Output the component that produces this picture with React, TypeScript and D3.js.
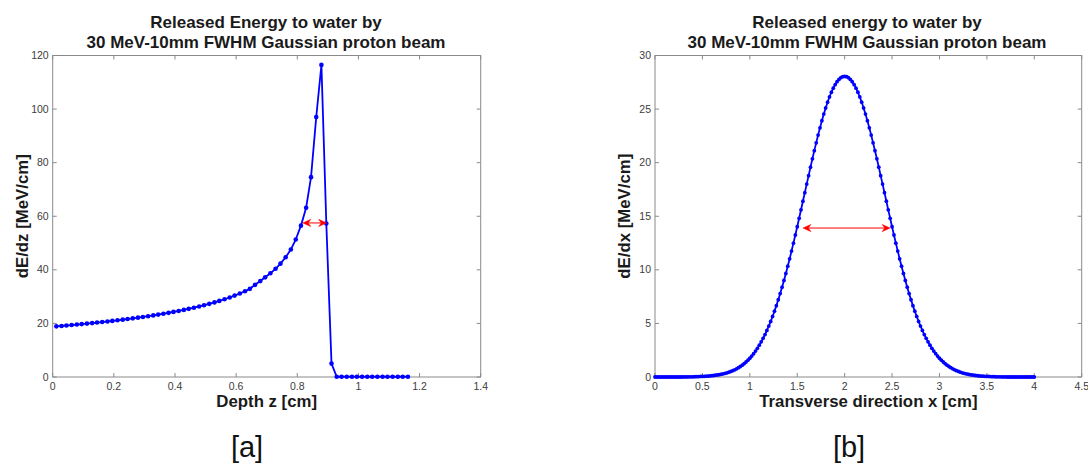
import React from 'react';
import * as d3 from 'd3';

// ---------- Panel [a] data ----------
const depthZ = [
  0.012, 0.029, 0.045, 0.062, 0.079, 0.095, 0.112, 0.129, 0.145, 0.162,
  0.179, 0.195, 0.212, 0.229, 0.245, 0.262, 0.279, 0.295, 0.312, 0.329,
  0.345, 0.362, 0.379, 0.395, 0.412, 0.429, 0.445, 0.462, 0.479, 0.495,
  0.512, 0.529, 0.545, 0.562, 0.579, 0.595, 0.612, 0.629, 0.645, 0.662,
  0.679, 0.695, 0.712, 0.729, 0.745, 0.762, 0.779, 0.795, 0.812, 0.829,
  0.845, 0.862, 0.879, 0.895, 0.912, 0.929, 0.945, 0.962, 0.979, 0.995,
  1.012, 1.029, 1.045, 1.062, 1.079, 1.095, 1.112, 1.129, 1.145, 1.162,
];
const dEdz = [
  18.90, 19.06, 19.22, 19.39, 19.57, 19.75, 19.93, 20.12, 20.32, 20.52,
  20.73, 20.94, 21.17, 21.40, 21.64, 21.89, 22.15, 22.42, 22.70, 22.99,
  23.29, 23.61, 23.94, 24.29, 24.66, 25.04, 25.44, 25.87, 26.32, 26.79,
  27.30, 27.84, 28.41, 29.02, 29.68, 30.39, 31.16, 32.00, 32.91, 34.40,
  35.80, 37.20, 38.70, 40.40, 42.30, 44.70, 47.60, 51.30, 56.50, 63.20,
  74.60, 97.00, 116.50, 57.30, 5.00, 0.10, 0.10, 0.10, 0.10, 0.10,
  0.10, 0.10, 0.10, 0.10, 0.10, 0.10, 0.10, 0.10, 0.10, 0.10,
];
const depthTicks = [0, 0.2, 0.4, 0.6, 0.8, 1, 1.2, 1.4];
const dEdzTicks = [0, 20, 40, 60, 80, 100, 120];
const fwhmDepth = [0.818, 0.896];
const fwhmDepthLevel = 57.5;

// ---------- Panel [b] data ----------
const transverseX = [
  0, 0.02, 0.04, 0.06, 0.08, 0.1, 0.12, 0.14, 0.16, 0.18,
  0.2, 0.22, 0.24, 0.26, 0.28, 0.3, 0.32, 0.34, 0.36, 0.38,
  0.4, 0.42, 0.44, 0.46, 0.48, 0.5, 0.52, 0.54, 0.56, 0.58,
  0.6, 0.62, 0.64, 0.66, 0.68, 0.7, 0.72, 0.74, 0.76, 0.78,
  0.8, 0.82, 0.84, 0.86, 0.88, 0.9, 0.92, 0.94, 0.96, 0.98,
  1, 1.02, 1.04, 1.06, 1.08, 1.1, 1.12, 1.14, 1.16, 1.18,
  1.2, 1.22, 1.24, 1.26, 1.28, 1.3, 1.32, 1.34, 1.36, 1.38,
  1.4, 1.42, 1.44, 1.46, 1.48, 1.5, 1.52, 1.54, 1.56, 1.58,
  1.6, 1.62, 1.64, 1.66, 1.68, 1.7, 1.72, 1.74, 1.76, 1.78,
  1.8, 1.82, 1.84, 1.86, 1.88, 1.9, 1.92, 1.94, 1.96, 1.98,
  2, 2.02, 2.04, 2.06, 2.08, 2.1, 2.12, 2.14, 2.16, 2.18,
  2.2, 2.22, 2.24, 2.26, 2.28, 2.3, 2.32, 2.34, 2.36, 2.38,
  2.4, 2.42, 2.44, 2.46, 2.48, 2.5, 2.52, 2.54, 2.56, 2.58,
  2.6, 2.62, 2.64, 2.66, 2.68, 2.7, 2.72, 2.74, 2.76, 2.78,
  2.8, 2.82, 2.84, 2.86, 2.88, 2.9, 2.92, 2.94, 2.96, 2.98,
  3, 3.02, 3.04, 3.06, 3.08, 3.1, 3.12, 3.14, 3.16, 3.18,
  3.2, 3.22, 3.24, 3.26, 3.28, 3.3, 3.32, 3.34, 3.36, 3.38,
  3.4, 3.42, 3.44, 3.46, 3.48, 3.5, 3.52, 3.54, 3.56, 3.58,
  3.6, 3.62, 3.64, 3.66, 3.68, 3.7, 3.72, 3.74, 3.76, 3.78,
  3.8, 3.82, 3.84, 3.86, 3.88, 3.9, 3.92, 3.94, 3.96, 3.98,
  4,
];
const dEdx = [
  0, 0, 0, 0, 0, 0, 0, 0, 0, 0,
  0, 0, 0, 0, 0, 0.01, 0.01, 0.01, 0.02, 0.02,
  0.02, 0.03, 0.03, 0.04, 0.05, 0.05, 0.06, 0.08, 0.09, 0.10,
  0.12, 0.14, 0.17, 0.19, 0.22, 0.26, 0.30, 0.34, 0.39, 0.45,
  0.52, 0.59, 0.67, 0.76, 0.87, 0.98, 1.10, 1.24, 1.40, 1.57,
  1.75, 1.95, 2.18, 2.42, 2.68, 2.97, 3.28, 3.61, 3.96, 4.35,
  4.75, 5.19, 5.65, 6.14, 6.66, 7.21, 7.78, 8.38, 9.01, 9.66,
  10.34, 11.03, 11.75, 12.49, 13.25, 14.02, 14.81, 15.60, 16.40, 17.20,
  18.00, 18.79, 19.58, 20.36, 21.12, 21.85, 22.57, 23.25, 23.91, 24.53,
  25.10, 25.64, 26.13, 26.57, 26.95, 27.28, 27.56, 27.77, 27.93, 28.02,
  28.05,
  28.02, 27.93, 27.77, 27.56, 27.28, 26.95, 26.57, 26.13, 25.64, 25.10,
  24.53, 23.91, 23.25, 22.57, 21.85, 21.12, 20.36, 19.58, 18.79, 18.00,
  17.20, 16.40, 15.60, 14.81, 14.02, 13.25, 12.49, 11.75, 11.03, 10.34,
  9.66, 9.01, 8.38, 7.78, 7.21, 6.66, 6.14, 5.65, 5.19, 4.75,
  4.35, 3.96, 3.61, 3.28, 2.97, 2.68, 2.42, 2.18, 1.95, 1.75,
  1.57, 1.40, 1.24, 1.10, 0.98, 0.87, 0.76, 0.67, 0.59, 0.52,
  0.45, 0.39, 0.34, 0.30, 0.26, 0.22, 0.19, 0.17, 0.14, 0.12,
  0.10, 0.09, 0.08, 0.06, 0.05, 0.05, 0.04, 0.03, 0.03, 0.02,
  0.02, 0.02, 0.01, 0.01, 0.01, 0, 0, 0, 0, 0,
  0, 0, 0, 0, 0, 0, 0, 0, 0, 0,
];
const transTicks = [0, 0.5, 1, 1.5, 2, 2.5, 3, 3.5, 4, 4.5];
const dEdxTicks = [0, 5, 10, 15, 20, 25, 30];
const fwhmTrans = [1.56, 2.48];
const fwhmTransLevel = 13.9;

const titleA = ['Released Energy to water by', '30 MeV-10mm FWHM Gaussian proton beam'];
const titleB = ['Released energy to water by', '30 MeV-10mm FWHM Gaussian proton beam'];

const FONT = "'Liberation Sans', Arial, Helvetica, sans-serif";
const BLUE = '#0000ff';
const RED = '#ff0000';
const AXIS = '#8a8a8a';

type PanelProps = {
  xs: number[];
  ys: number[];
  xDomain: [number, number];
  yDomain: [number, number];
  xTicks: number[];
  yTicks: number[];
  box: { l: number; r: number; t: number; b: number };
  title: string[];
  titleCx: number;
  xLabel: string;
  yLabel: string;
  yLabelX: number;
  arrowXs: number[];
  arrowY: number;
  dotR: number;
  lineW: number;
  caption: string;
  captionCx: number;
};

function Panel(p: PanelProps) {
  const x = d3.scaleLinear().domain(p.xDomain).range([p.box.l, p.box.r]);
  const y = d3.scaleLinear().domain(p.yDomain).range([p.box.b, p.box.t]);
  const pts = p.xs.map((v, i) => [v, p.ys[i]] as [number, number]);
  const line = d3
    .line<[number, number]>()
    .x((d) => x(d[0]))
    .y((d) => y(d[1]));
  const tl = 4;
  const ax1 = x(p.arrowXs[0]);
  const ax2 = x(p.arrowXs[1]);
  const ay = y(p.arrowY);
  const head = (tx: number, dir: number) => {
    const L = 8;
    const W = 3.6;
    return `M${tx},${ay} L${tx + dir * L},${ay - W} L${tx + dir * (L - 2.6)},${ay} L${tx + dir * L},${ay + W} Z`;
  };
  const midY = (p.box.t + p.box.b) / 2;
  return (
    <g>
      {/* title */}
      <text
        x={p.titleCx}
        y={28}
        textAnchor="middle"
        fontFamily={FONT}
        fontWeight="bold"
        fontSize={17}
        fill="#1a1a1a"
      >
        {p.title[0]}
      </text>
      <text
        x={p.titleCx}
        y={47.5}
        textAnchor="middle"
        fontFamily={FONT}
        fontWeight="bold"
        fontSize={17}
        fill="#1a1a1a"
      >
        {p.title[1]}
      </text>
      {/* box */}
      <rect
        x={p.box.l}
        y={p.box.t}
        width={p.box.r - p.box.l}
        height={p.box.b - p.box.t}
        fill="none"
        stroke={AXIS}
        strokeWidth={1}
      />
      {/* x ticks */}
      {p.xTicks.map((t) => (
        <g key={'xt' + t}>
          <line x1={x(t)} x2={x(t)} y1={p.box.b} y2={p.box.b - tl} stroke={AXIS} />
          <line x1={x(t)} x2={x(t)} y1={p.box.t} y2={p.box.t + tl} stroke={AXIS} />
          <text
            x={x(t)}
            y={p.box.b + 12.5}
            textAnchor="middle"
            fontFamily={FONT}
            fontSize={10.5}
            fill="#3c3c3c"
          >
            {String(t)}
          </text>
        </g>
      ))}
      {/* y ticks */}
      {p.yTicks.map((t) => (
        <g key={'yt' + t}>
          <line x1={p.box.l} x2={p.box.l + tl} y1={y(t)} y2={y(t)} stroke={AXIS} />
          <line x1={p.box.r} x2={p.box.r - tl} y1={y(t)} y2={y(t)} stroke={AXIS} />
          <text
            x={p.box.l - 4}
            y={y(t) + 3.6}
            textAnchor="end"
            fontFamily={FONT}
            fontSize={10.5}
            fill="#3c3c3c"
          >
            {String(t)}
          </text>
        </g>
      ))}
      {/* curve */}
      <path d={line(pts) || ''} fill="none" stroke={BLUE} strokeWidth={p.lineW} strokeLinejoin="round" />
      {pts.map((d, i) => (
        <circle key={'pt' + i} cx={x(d[0])} cy={y(d[1])} r={p.dotR} fill={BLUE} />
      ))}
      {/* FWHM arrow */}
      <line x1={ax1 + 4} x2={ax2 - 4} y1={ay} y2={ay} stroke={RED} strokeWidth={1} />
      <path d={head(ax1, 1)} fill={RED} stroke={RED} strokeWidth={0.5} />
      <path d={head(ax2, -1)} fill={RED} stroke={RED} strokeWidth={0.5} />
      {/* axis labels */}
      <text
        x={(p.box.l + p.box.r) / 2}
        y={406.5}
        textAnchor="middle"
        fontFamily={FONT}
        fontWeight="bold"
        fontSize={16.8}
        fill="#1a1a1a"
      >
        {p.xLabel}
      </text>
      <text
        transform={`translate(${p.yLabelX},${midY}) rotate(-90)`}
        textAnchor="middle"
        fontFamily={FONT}
        fontWeight="bold"
        fontSize={16.8}
        fill="#1a1a1a"
      >
        {p.yLabel}
      </text>
      {/* caption */}
      <text
        x={p.captionCx}
        y={457}
        textAnchor="middle"
        fontFamily={FONT}
        fontSize={29}
        fill="#111"
      >
        {p.caption}
      </text>
    </g>
  );
}

export default function App() {
  return (
    <svg
      width={1088}
      height={468}
      viewBox="0 0 1088 468"
      style={{ position: 'absolute', left: 0, top: 0, background: '#fff' }}
    >
      <rect x={0} y={0} width={1088} height={468} fill="#fff" />
      <Panel
        xs={depthZ}
        ys={dEdz}
        xDomain={[0, 1.4]}
        yDomain={[0, 120]}
        xTicks={depthTicks}
        yTicks={dEdzTicks}
        box={{ l: 52.7, r: 480.7, t: 55.5, b: 377 }}
        title={titleA}
        titleCx={266}
        xLabel="Depth z [cm]"
        yLabel="dE/dz [MeV/cm]"
        yLabelX={28}
        arrowXs={fwhmDepth}
        arrowY={fwhmDepthLevel}
        dotR={2.3}
        lineW={1.8}
        caption="[a]"
        captionCx={247}
      />
      <Panel
        xs={transverseX}
        ys={dEdx}
        xDomain={[0, 4.5]}
        yDomain={[0, 30]}
        xTicks={transTicks}
        yTicks={dEdxTicks}
        box={{ l: 655, r: 1081.7, t: 55.5, b: 377 }}
        title={titleB}
        titleCx={867}
        xLabel="Transverse direction x [cm]"
        yLabel="dE/dx [MeV/cm]"
        yLabelX={630}
        arrowXs={fwhmTrans}
        arrowY={fwhmTransLevel}
        dotR={1.9}
        lineW={1.8}
        caption="[b]"
        captionCx={849}
      />
    </svg>
  );
}
